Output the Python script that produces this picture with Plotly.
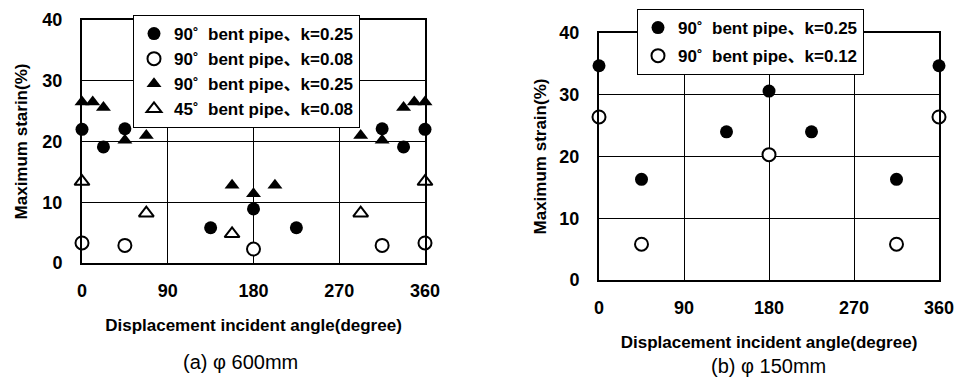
import plotly.graph_objects as go

# ---- data: (a) phi 600mm ----
a_fc_x = [0, 22.5, 45, 135, 180, 225, 315, 337.5, 360]
a_fc_y = [22, 19.1, 22.1, 5.8, 8.9, 5.8, 22.1, 19.1, 22]
a_oc_x = [0, 45, 180, 315, 360]
a_oc_y = [3.3, 2.9, 2.3, 2.9, 3.3]
a_ft_x = [0, 11.25, 22.5, 45, 67.5, 157.5, 180, 202.5, 292.5, 315, 337.5, 348.75, 360]
a_ft_y = [26.5, 26.5, 25.6, 20.2, 21.0, 12.8, 11.4, 12.8, 21.0, 20.2, 25.6, 26.5, 26.5]
a_ot_x = [0, 67.5, 157.5, 292.5, 360]
a_ot_y = [13.4, 8.2, 4.8, 8.2, 13.4]

# ---- data: (b) phi 150mm ----
b_fc_x = [0, 45, 135, 180, 225, 315, 360]
b_fc_y = [34.7, 16.3, 24.0, 30.6, 24.0, 16.3, 34.7]
b_oc_x = [0, 45, 180, 315, 360]
b_oc_y = [26.4, 5.8, 20.3, 5.8, 26.4]

names_a = ["90\u02da  bent pipe\u3001k=0.25", "90\u02da  bent pipe\u3001k=0.08",
           "90\u02da  bent pipe\u3001k=0.25", "45\u02da  bent pipe\u3001k=0.08"]
names_b = ["90\u02da  bent pipe\u3001k=0.25", "90\u02da  bent pipe\u3001k=0.12"]

FONT = "Liberation Sans, Arial, Noto Sans CJK JP, sans-serif"
BLK = "black"

fig = go.Figure()

def add(x, y, name, symbol, filled, xa, ya, legend, grp):
    fig.add_trace(go.Scatter(
        x=x, y=y, mode="markers", name=name, xaxis=xa, yaxis=ya,
        legend=legend, legendgroup=grp, cliponaxis=False,
        marker=dict(symbol=symbol, size=13,
                    color=BLK if filled else "white",
                    line=dict(color=BLK, width=0 if filled else 2))))

add(a_fc_x, a_fc_y, names_a[0], "circle", True, "x", "y", "legend", "a1")
add(a_oc_x, a_oc_y, names_a[1], "circle", False, "x", "y", "legend", "a2")
add(a_ft_x, a_ft_y, names_a[2], "triangle-up", True, "x", "y", "legend", "a3")
add(a_ot_x, a_ot_y, names_a[3], "triangle-up", False, "x", "y", "legend", "a4")
add(b_fc_x, b_fc_y, names_b[0], "circle", True, "x2", "y2", "legend2", "b1")
add(b_oc_x, b_oc_y, names_b[1], "circle", False, "x2", "y2", "legend2", "b2")

tickfont = dict(family=FONT, size=18, color=BLK, weight="bold")
titlefont = dict(family=FONT, size=17, color=BLK, weight="bold")

def xax(domain):
    return dict(domain=domain, range=[0, 360], tick0=0, dtick=90, showgrid=True,
                gridcolor=BLK, gridwidth=1, showline=True, linecolor=BLK, linewidth=2,
                mirror=True, zeroline=False, ticks="", tickfont=tickfont,
                ticklabelstandoff=10, automargin=False,
                title=dict(text="Displacement incident angle(degree)", font=titlefont, standoff=20))

def yax(domain, title, xanchor, standoff):
    return dict(domain=domain, range=[0, 40], tick0=0, dtick=10, showgrid=True,
                gridcolor=BLK, gridwidth=1, showline=True, linecolor=BLK, linewidth=2,
                mirror=True, zeroline=False, ticks="", tickfont=tickfont,
                ticklabelstandoff=14, automargin=False, anchor=xanchor,
                title=dict(text=title, font=titlefont, standoff=standoff))

legfont = dict(family=FONT, size=17, color=BLK, weight="bold")

fig.update_layout(
    width=955, height=385, margin=dict(l=0, r=0, t=0, b=0),
    paper_bgcolor="white", plot_bgcolor="white",
    xaxis=dict(xax([82/955, 425/955]), anchor="y"),
    yaxis=yax([122/385, 365/385], "Maximum starin(%)", "x", 10),
    xaxis2=dict(xax([599/955, 939/955]), anchor="y2"),
    yaxis2=yax([105/385, 352/385], "Maximum strain(%)", "x2", 8),
    legend=dict(x=133/955, y=370/385, xanchor="left", yanchor="top",
                bgcolor="white", bordercolor=BLK, borderwidth=1, font=legfont,
                traceorder="grouped", tracegroupgap=0, itemwidth=30),
    legend2=dict(x=637/955, y=376/385, xanchor="left", yanchor="top",
                 bgcolor="white", bordercolor=BLK, borderwidth=1, font=legfont,
                 traceorder="grouped", tracegroupgap=3, itemwidth=30),
    showlegend=True,
    annotations=[
        dict(text="(a) \u03c6 600mm", x=240/955, y=(385-362)/385, xref="paper", yref="paper",
             xanchor="center", yanchor="middle",
             showarrow=False, font=dict(family=FONT, size=20, color=BLK)),
        dict(text="(b) \u03c6 150mm", x=768/955, y=(385-366)/385, xref="paper", yref="paper",
             xanchor="center", yanchor="middle",
             showarrow=False, font=dict(family=FONT, size=20, color=BLK)),
    ],
)

fig.write_html("out.html")
